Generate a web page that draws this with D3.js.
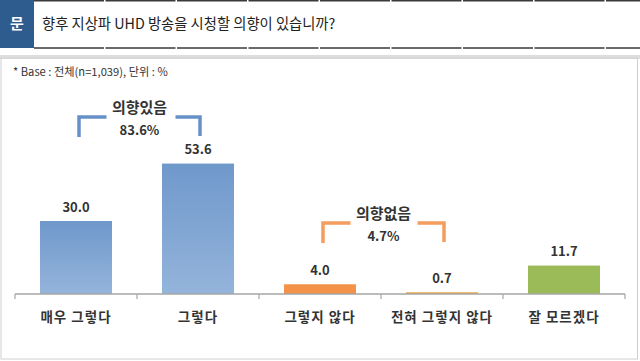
<!DOCTYPE html>
<html><head><meta charset="utf-8">
<script src="https://cdn.jsdelivr.net/npm/d3@7"></script>
<style>body{margin:0;background:#fff}svg{display:block}</style>
</head><body>
<svg id="c" width="640" height="361"></svg>
<script>
const categories = ["매우 그렇다", "그렇다", "그렇지 않다", "전혀 그렇지 않다", "잘 모르겠다"];
const values = [30.0, 53.6, 4.0, 0.7, 11.7];
const valueLabels = ["30.0", "53.6", "4.0", "0.7", "11.7"];
const groupLabels = ["의향있음", "의향없음"];
const groupTotals = ["83.6%", "4.7%"];
const title = "향후 지상파 UHD 방송을 시청할 의향이 있습니까?";
const note = "* Base : 전체(n=1,039), 단위 : %";

const svg = d3.select("#c");
const FONT = "'Noto Sans CJK KR','Noto Sans',sans-serif";

// header
svg.append("rect").attr("x",0).attr("y",0).attr("width",34).attr("height",48).attr("fill","#2F5C8F");
svg.append("text").attr("x",17).attr("y",24).attr("dy","0.35em").attr("text-anchor","middle")
  .attr("fill","#fff").attr("font-family",FONT).attr("font-size",15).attr("font-weight",700).text("문");
svg.append("text").attr("x",42).attr("y",24).attr("dy","0.35em")
  .attr("fill","#222").attr("font-family",FONT).attr("font-size",14.3).text(title);
svg.append("line").attr("x1",34).attr("x2",640).attr("y1",0.75).attr("y2",0.75).attr("stroke","#3a3a3a").attr("stroke-width",1.5).attr("stroke-dasharray","70,1.5");
svg.append("line").attr("x1",34).attr("x2",640).attr("y1",48).attr("y2",48).attr("stroke","#3a3a3a").attr("stroke-width",1.5).attr("stroke-dasharray","70,1.5");

// frame
svg.append("line").attr("x1",0).attr("x2",640).attr("y1",56).attr("y2",56).attr("stroke","#bdbdbd").attr("stroke-width",1);
svg.append("line").attr("x1",0).attr("x2",640).attr("y1",58).attr("y2",58).attr("stroke","#d6d6d6").attr("stroke-width",1.5);
svg.append("rect").attr("x",1).attr("y",58).attr("width",636.5).attr("height",301).attr("fill","none").attr("stroke","#cfcfcf").attr("stroke-width",1);

svg.append("text").attr("x",13).attr("y",72).attr("dy","0.35em")
  .attr("fill","#333").attr("font-family",FONT).attr("font-size",11.2).text(note);

// scales
const x = d3.scaleBand().domain(categories).range([15,625]).paddingInner(0.41).paddingOuter(0.205);
const y = d3.scaleLinear().domain([0,60]).range([294,148]);

const defs = svg.append("defs");
const gb = defs.append("linearGradient").attr("id","gblue").attr("x1",0).attr("y1",0).attr("x2",0).attr("y2",1);
gb.append("stop").attr("offset","0%").attr("stop-color","#6F98CB");
gb.append("stop").attr("offset","100%").attr("stop-color","#94B4DB");
const colors = ["url(#gblue)","url(#gblue)","#F4924A","#E9A53C","#9BBB59"];

svg.append("g").selectAll("rect").data(values).join("rect")
  .attr("x",(d,i)=>x(categories[i])).attr("width",x.bandwidth())
  .attr("y",d=>y(d)).attr("height",d=>y(0)-y(d))
  .attr("fill",(d,i)=>colors[i]);

// axis
const axis = svg.append("g").attr("transform","translate(0,294)");
axis.append("line").attr("x1",15).attr("x2",625).attr("stroke","#a6a6a6").attr("stroke-width",1.5);
const step = x.step();
const tickPos = d3.range(categories.length+1).map(i=>15+i*step);
axis.selectAll("line.t").data(tickPos).join("line").attr("class","t")
  .attr("x1",d=>d).attr("x2",d=>d).attr("y1",0).attr("y2",5).attr("stroke","#a6a6a6").attr("stroke-width",1.2);
axis.selectAll("text").data(categories).join("text")
  .attr("x",d=>x(d)+x.bandwidth()/2).attr("y",23).attr("dy","0.35em").attr("text-anchor","middle")
  .attr("fill","#333").attr("font-family",FONT).attr("font-size",13.5).attr("font-weight",700)
  .attr("letter-spacing",1).text(d=>d);

// value labels
svg.append("g").selectAll("text").data(values).join("text")
  .attr("x",(d,i)=>x(categories[i])+x.bandwidth()/2).attr("y",d=>y(d)-14).attr("dy","0.35em")
  .attr("text-anchor","middle").attr("fill","#333").attr("font-family",FONT).attr("font-size",13).attr("font-weight",700)
  .text((d,i)=>valueLabels[i]);

// brackets
function bracket(i0,i1,top,color,label,total,lw,rw){
  const xl = x(categories[i0])+x.bandwidth()/2+3;
  const xr = x(categories[i1])+x.bandwidth()/2+2;
  const cx = (xl+xr)/2;
  const g = svg.append("g");
  g.append("path").attr("d",`M${xl},${top+20}V${top}H${cx-lw}`).attr("fill","none").attr("stroke",color).attr("stroke-width",3.5).attr("opacity",0.9);
  g.append("path").attr("d",`M${cx+rw},${top}H${xr}V${top+19}`).attr("fill","none").attr("stroke",color).attr("stroke-width",3.5).attr("opacity",0.9);
  g.append("text").attr("x",cx).attr("y",top-9).attr("dy","0.35em").attr("text-anchor","middle")
    .attr("fill","#333").attr("font-family",FONT).attr("font-size",15).attr("font-weight",700).text(label);
  g.append("text").attr("x",cx).attr("y",top+13).attr("dy","0.35em").attr("text-anchor","middle")
    .attr("fill","#333").attr("font-family",FONT).attr("font-size",13).attr("font-weight",700).text(total);
}
bracket(0,1,117,"#5585C2",groupLabels[0],groupTotals[0],33,36);
bracket(2,3,223,"#F4924A",groupLabels[1],groupTotals[1],33,34);
</script>
</body></html>
